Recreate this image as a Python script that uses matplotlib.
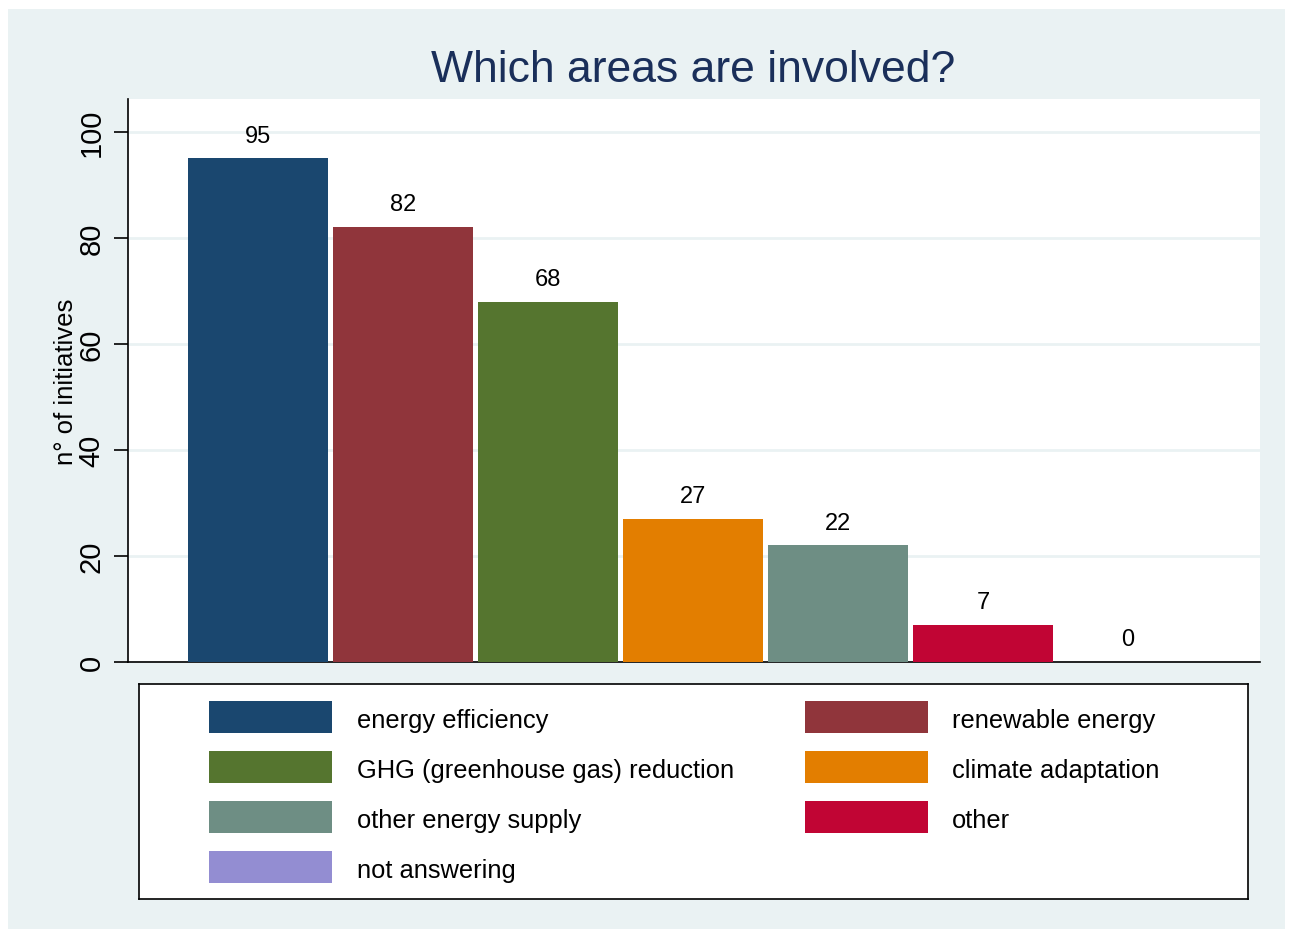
import numpy as np
import matplotlib.pyplot as plt
from matplotlib.patches import Rectangle

plt.rcParams['font.family'] = ['Liberation Sans', 'DejaVu Sans']

# data
categories = ['energy efficiency', 'renewable energy', 'GHG (greenhouse gas) reduction',
              'climate adaptation', 'other energy supply', 'other', 'not answering']
counts = [95, 82, 68, 27, 22, 7, 0]
colors = ['#1a476f', '#90353b', '#55752f', '#e37e00', '#6e8e84', '#c10534', '#938dd2']
yticks = [0, 20, 40, 60, 80, 100]

bg = '#eaf2f3'

fig = plt.figure(figsize=(12.93, 9.37), dpi=100, facecolor='white')
fig.patches.append(Rectangle((0.0062, 0.0075), 0.9876, 0.982, transform=fig.transFigure,
                             facecolor=bg, edgecolor='none', zorder=-10))

ax = fig.add_axes([0.099, 0.2924, 0.8755, 0.6009])
x = np.arange(len(counts))
bars = ax.bar(x, counts, width=0.966, color=colors, zorder=3)
ax.bar_label(bars, labels=[str(c) for c in counts], padding=8.5, fontsize=17)

ax.set_xlim(-0.897, 6.91)
ax.set_ylim(0, 106.2)
ax.set_yticks(yticks)
ax.set_yticklabels([str(t) for t in yticks], rotation=90, va='center', fontsize=21)
ax.set_xticks([])
ax.grid(axis='y', color=bg, linewidth=2, zorder=0)
for s in ['top', 'right']:
    ax.spines[s].set_visible(False)
ax.spines['left'].set_linewidth(1.2)
ax.spines['bottom'].set_linewidth(1.2)
ax.tick_params(axis='y', length=10, width=1.2, pad=6)
ax.set_ylabel('n° of initiatives', fontsize=18.5, labelpad=0)

fig.text(0.536, 0.925, 'Which areas are involved?', ha='center', va='center',
         fontsize=32, color='#1a2f5a')

# legend (row-major, two columns)
lax = fig.add_axes([0.1075, 0.0395, 0.8577, 0.2294])
lax.set_xlim(139, 1248)
lax.set_ylim(900, 685)
lax.set_xticks([])
lax.set_yticks([])
for s in lax.spines.values():
    s.set_linewidth(1.2)
col_x = [209, 805]
text_x = [357, 952]
for i, (lab, c) in enumerate(zip(categories, colors)):
    r, k = divmod(i, 2)
    yc = 718 + 50 * r
    lax.add_patch(Rectangle((col_x[k], yc - 16), 123, 32, facecolor=c, edgecolor='none'))
    lax.text(text_x[k], yc + 3, lab, va='center', ha='left', fontsize=18.4)

fig.savefig('out.png', dpi=100, facecolor='white')
